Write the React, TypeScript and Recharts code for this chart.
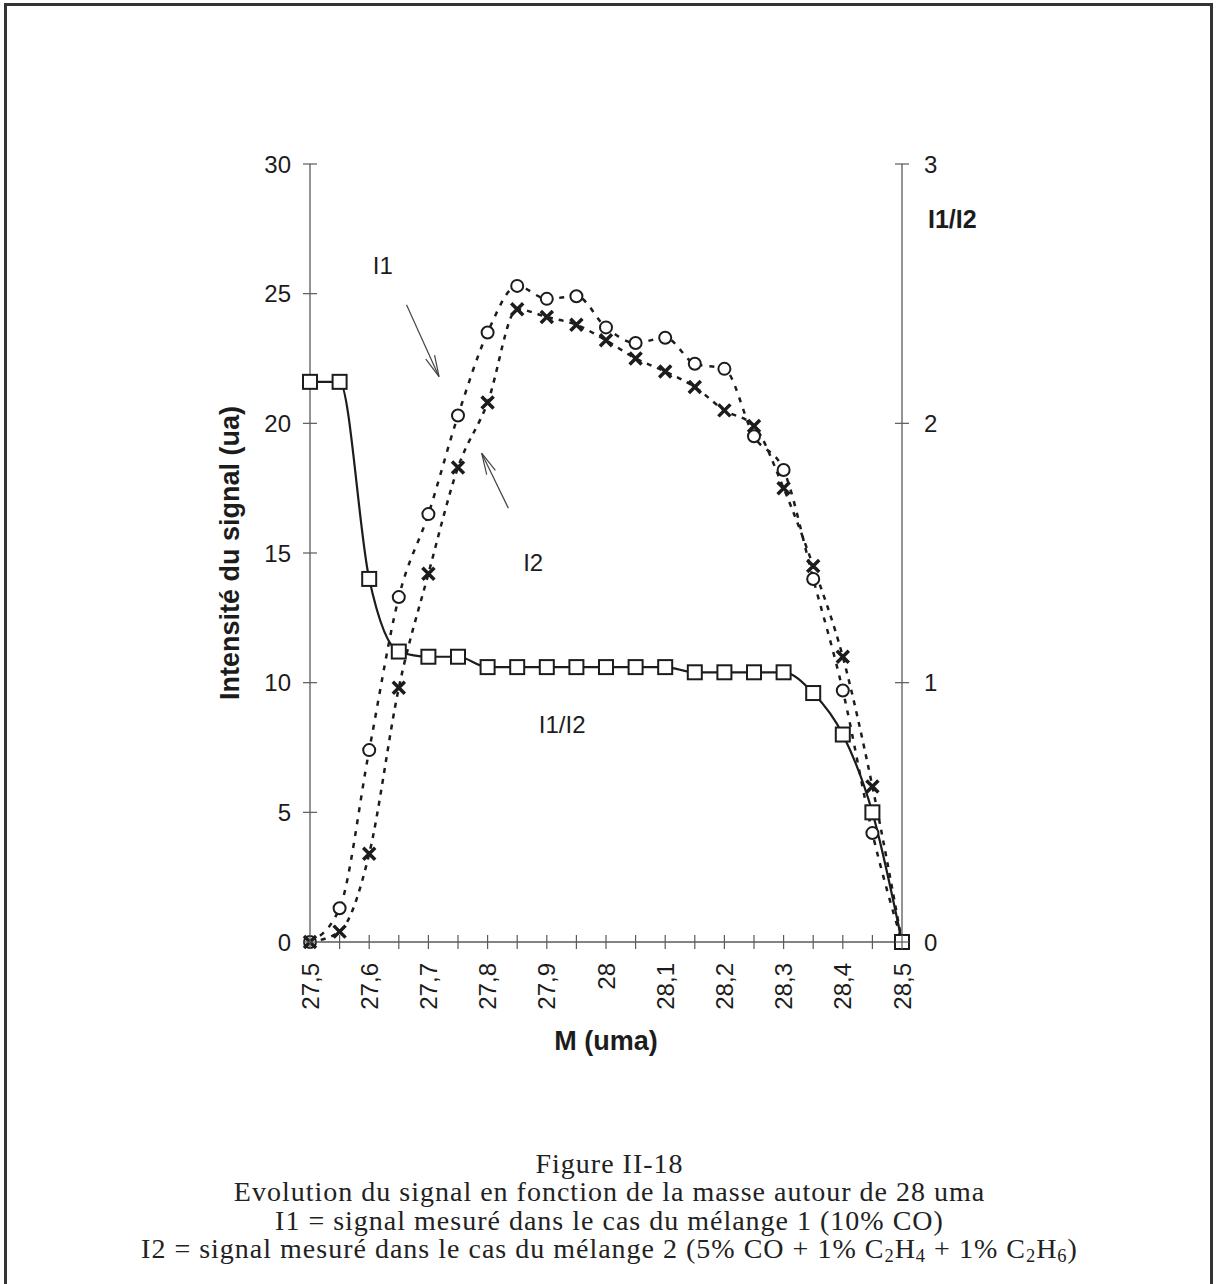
import React from 'react';
import { LineChart, Line, XAxis, YAxis, ReferenceLine, ReferenceDot, Label } from 'recharts';

// mass scanned around 28 uma, one point every 0.05
const masses = [27.5, 27.55, 27.6, 27.65, 27.7, 27.75, 27.8, 27.85, 27.9, 27.95, 28, 28.05, 28.1, 28.15, 28.2, 28.25, 28.3, 28.35, 28.4, 28.45, 28.5];
// I1 : mélange 1 (circles)
const i1Signal = [0, 1.3, 7.4, 13.3, 16.5, 20.3, 23.5, 25.3, 24.8, 24.9, 23.7, 23.1, 23.3, 22.3, 22.1, 19.5, 18.2, 14.0, 9.7, 4.2, 0];
// I2 : mélange 2 (crosses)
const i2Signal = [0, 0.4, 3.4, 9.8, 14.2, 18.3, 20.8, 24.4, 24.1, 23.8, 23.2, 22.5, 22.0, 21.4, 20.5, 19.9, 17.5, 14.5, 11.0, 6.0, 0];
// I1/I2 on the right axis (squares)
const ratioI1I2 = [2.16, 2.16, 1.4, 1.12, 1.1, 1.1, 1.06, 1.06, 1.06, 1.06, 1.06, 1.06, 1.06, 1.04, 1.04, 1.04, 1.04, 0.96, 0.8, 0.5, 0];

const labelledMasses = [27.5, 27.6, 27.7, 27.8, 27.9, 28, 28.1, 28.2, 28.3, 28.4, 28.5];
const massLabels = ['27,5', '27,6', '27,7', '27,8', '27,9', '28', '28,1', '28,2', '28,3', '28,4', '28,5'];
const signalTicks = [0, 5, 10, 15, 20, 25, 30];
const ratioTicks = [0, 1, 2, 3];

const data = masses.map((m, i) => ({ m, i1: i1Signal[i], i2: i2Signal[i], ratio: ratioI1I2[i] }));

const INK = '#1c1c1c';
const AXIS = '#5a5a5a';
const SANS = '"Liberation Sans", Arial, sans-serif';
const SERIF = '"Liberation Serif", "Times New Roman", serif';
const TM = 10; // tick margin used to get back to the axis line

const XTick = ({ x, y, payload }: any) => {
  const axisY = y - TM;
  const idx = labelledMasses.findIndex((v) => Math.abs(v - payload.value) < 1e-6);
  const ty = axisY + 21;
  return (
    <g>
      <line x1={x} x2={x} y1={axisY - 7} y2={axisY + 7} stroke={AXIS} strokeWidth={1.2} />
      {idx >= 0 && (
        <text x={x} y={ty} transform={`rotate(-90 ${x} ${ty})`} textAnchor="end" dominantBaseline="central"
          fontSize={24} fill={INK} fontFamily={SANS}>{massLabels[idx]}</text>
      )}
    </g>
  );
};

const LeftTick = ({ x, y, payload }: any) => {
  const axisX = x + TM;
  return (
    <g>
      <line x1={axisX - 7} x2={axisX + 7} y1={y} y2={y} stroke={AXIS} strokeWidth={1.2} />
      <text x={axisX - 19} y={y} textAnchor="end" dominantBaseline="central" fontSize={24} fill={INK} fontFamily={SANS}>
        {payload.value}
      </text>
    </g>
  );
};

const RightTick = ({ x, y, payload }: any) => {
  const axisX = x - TM;
  return (
    <g>
      <line x1={axisX - 7} x2={axisX + 7} y1={y} y2={y} stroke={AXIS} strokeWidth={1.2} />
      <text x={axisX + 22} y={y} textAnchor="start" dominantBaseline="central" fontSize={24} fill={INK} fontFamily={SANS}>
        {payload.value}
      </text>
    </g>
  );
};

const CircleDot = ({ cx, cy, index }: any) => (
  <circle key={`o${index}`} cx={cx} cy={cy} r={6} fill="#fff" stroke={INK} strokeWidth={2} />
);

const CrossDot = ({ cx, cy, index }: any) => (
  <path key={`x${index}`} d={`M${cx - 6},${cy - 6}L${cx + 6},${cy + 6}M${cx - 6},${cy + 6}L${cx + 6},${cy - 6}`}
    stroke={INK} strokeWidth={3.5} fill="none" />
);

const SquareDot = ({ cx, cy, index }: any) => (
  <rect key={`s${index}`} x={cx - 7} y={cy - 7} width={14} height={14} fill="#fff" stroke={INK} strokeWidth={2} />
);

const Arrow = ({ x1, y1, x2, y2 }: any) => {
  const ang = Math.atan2(y2 - y1, x2 - x1);
  const len = 22;
  const a = ang + Math.PI - 0.22;
  const b = ang + Math.PI + 0.22;
  return (
    <g stroke="#444" strokeWidth={1.2} fill="none">
      <line x1={x1} y1={y1} x2={x2} y2={y2} />
      <polyline points={`${x2 + len * Math.cos(a)},${y2 + len * Math.sin(a)} ${x2},${y2} ${x2 + len * Math.cos(b)},${y2 + len * Math.sin(b)}`} />
    </g>
  );
};

const textMark = (t: string) => (p: any) => (
  <text x={p.cx} y={p.cy} textAnchor="middle" dominantBaseline="central" fontSize={24} fill={INK} fontFamily={SANS}>{t}</text>
);

const Sub = ({ children }: any) => (
  <span style={{ fontSize: '0.66em', verticalAlign: '-0.22em', lineHeight: 0 }}>{children}</span>
);

export default function App() {
  return (
    <div style={{ position: 'absolute', left: 0, top: 0, width: 1219, height: 1284, background: '#fff', overflow: 'hidden' }}>
      <div style={{ position: 'absolute', left: 4, top: 3, width: 1203, height: 1300, borderLeft: '3px solid #333', borderTop: '3px solid #333', borderRight: '3px solid #333' }} />
      <div style={{ position: 'absolute', left: 0, top: 0 }}>
        <LineChart width={1219} height={1062} data={data} margin={{ top: 164, right: 0, bottom: 0, left: 148 }}>
          <XAxis dataKey="m" type="number" domain={[27.5, 28.5]} ticks={masses} interval={0} height={120}
            tickSize={0} tickMargin={TM} tick={<XTick />} axisLine={{ stroke: AXIS, strokeWidth: 1.3 }} tickLine={false}>
            <Label position="insideBottom" offset={12} value="M (uma)" fontSize={27} fontWeight="bold" fill={INK} fontFamily={SANS} />
          </XAxis>
          <YAxis yAxisId="left" orientation="left" domain={[0, 30]} ticks={signalTicks} width={162}
            tickSize={0} tickMargin={TM} tick={<LeftTick />} axisLine={{ stroke: AXIS, strokeWidth: 1.3 }} tickLine={false}>
            <Label position="center" angle={-90} value="Intensité du signal (ua)" fontSize={27} fontWeight="bold" fill={INK} fontFamily={SANS} />
          </YAxis>
          <YAxis yAxisId="right" orientation="right" domain={[0, 3]} ticks={ratioTicks} width={317}
            tickSize={0} tickMargin={TM} tick={<RightTick />} axisLine={{ stroke: AXIS, strokeWidth: 1.3 }} tickLine={false}>
            <Label content={({ viewBox }: any) => (
              <text x={viewBox.x + 26} y={viewBox.y + 64} fontSize={25} fontWeight="bold" fill={INK} fontFamily={SANS}>I1/I2</text>
            )} />
          </YAxis>

          <Line yAxisId="left" dataKey="i1" type="monotone" stroke={INK} strokeWidth={2.5} strokeDasharray="5 7"
            dot={CircleDot} activeDot={false} isAnimationActive={false} />
          <Line yAxisId="left" dataKey="i2" type="monotone" stroke={INK} strokeWidth={2.5} strokeDasharray="5 6"
            dot={CrossDot} activeDot={false} isAnimationActive={false} />
          <Line yAxisId="right" dataKey="ratio" type="monotone" stroke={INK} strokeWidth={2.2}
            dot={SquareDot} activeDot={false} isAnimationActive={false} />

          <ReferenceLine yAxisId="left" segment={[{ x: 27.663, y: 24.57 }, { x: 27.718, y: 21.8 }]} shape={Arrow} />
          <ReferenceLine yAxisId="left" segment={[{ x: 27.835, y: 16.73 }, { x: 27.79, y: 18.85 }]} shape={Arrow} />
          <ReferenceDot yAxisId="left" x={27.623} y={26.1} r={0} shape={textMark('I1')} />
          <ReferenceDot yAxisId="left" x={27.877} y={14.62} r={0} shape={textMark('I2')} />
          <ReferenceDot yAxisId="left" x={27.926} y={8.37} r={0} shape={textMark('I1/I2')} />
        </LineChart>
      </div>
      <div style={{ position: 'absolute', left: 0, top: 1150, width: 1219, textAlign: 'center', fontFamily: SERIF, fontSize: 28, letterSpacing: 1, lineHeight: '28.3px', color: '#222' }}>
        <div>Figure II-18</div>
        <div>Evolution du signal en fonction de la masse autour de 28 uma</div>
        <div>I1 = signal mesuré dans le cas du mélange 1 (10% CO)</div>
        <div>I2 = signal mesuré dans le cas du mélange 2 (5% CO + 1% C<Sub>2</Sub>H<Sub>4</Sub> + 1% C<Sub>2</Sub>H<Sub>6</Sub>)</div>
      </div>
    </div>
  );
}
